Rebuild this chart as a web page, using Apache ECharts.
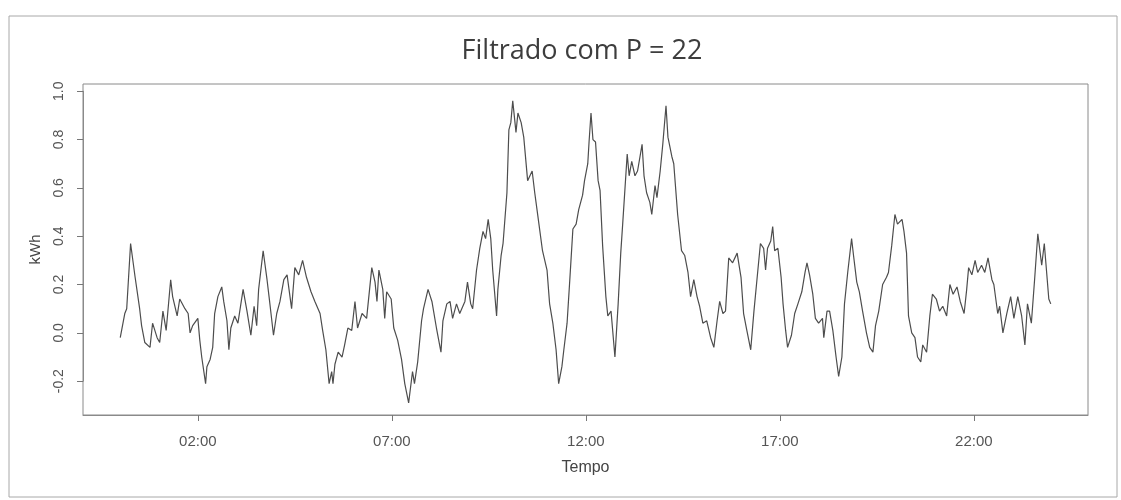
<!DOCTYPE html>
<html>
<head>
<meta charset="utf-8">
<script src="https://cdn.jsdelivr.net/npm/echarts@6/dist/echarts.min.js"></script>
<style>html,body{margin:0;padding:0;background:#fff;}#c{width:1121px;height:500px;}</style>
</head>
<body>
<div id="c"></div>
<script>
// time of day in minutes since 00:00
const minutes = [0,7,10,16,23,30,33,38,46,50,57,61,66,71,78,81,88,92,100,105,108,112,120,123,126,132,134,139,143,146,151,157,160,165,168,171,177,182,190,196,202,207,211,214,221,227,231,237,242,247,253,258,265,270,276,282,288,295,301,309,313,318,323,327,329,332,337,343,347,352,358,363,367,374,381,389,394,397,400,406,409,412,419,423,429,435,440,446,452,455,460,466,469,476,482,489,496,499,505,510,514,520,525,533,537,542,545,551,556,561,565,569,573,576,582,584,589,592,598,601,604,607,612,615,620,624,630,637,641,646,653,660,664,669,674,678,683,686,691,695,700,705,709,715,718,723,725,728,731,735,739,742,746,751,754,759,765,770,774,777,784,787,791,796,800,807,810,814,819,822,827,830,835,839,844,847,853,856,862,868,873,878,882,887,892,896,901,907,913,918,923,927,932,936,941,947,954,960,964,969,975,980,985,990,995,998,1001,1006,1009,1012,1017,1022,1025,1029,1032,1038,1043,1048,1054,1059,1062,1066,1071,1075,1080,1086,1088,1093,1097,1102,1107,1111,1116,1120,1125,1131,1134,1139,1143,1148,1154,1159,1164,1168,1173,1179,1185,1188,1193,1198,1202,1209,1212,1216,1219,1224,1229,1233,1238,1241,1247,1252,1256,1262,1267,1272,1278,1283,1288,1294,1299,1305,1309,1312,1317,1322,1326,1332,1337,1342,1348,1351,1357,1360,1365,1371,1377,1382,1388,1394,1399,1403,1409,1414,1419,1425,1429,1436,1439];
const kwh = [-0.02,0.08,0.10,0.37,0.23,0.10,0.03,-0.04,-0.06,0.04,-0.02,-0.04,0.09,0.01,0.22,0.15,0.07,0.14,0.10,0.08,0.00,0.03,0.06,-0.03,-0.10,-0.21,-0.14,-0.11,-0.06,0.08,0.15,0.19,0.13,0.05,-0.07,0.02,0.07,0.04,0.18,0.09,-0.01,0.11,0.03,0.18,0.34,0.22,0.13,-0.01,0.08,0.13,0.22,0.24,0.10,0.27,0.24,0.30,0.23,0.17,0.13,0.08,0.01,-0.07,-0.21,-0.16,-0.21,-0.13,-0.08,-0.10,-0.05,0.02,0.01,0.13,0.02,0.08,0.06,0.27,0.21,0.13,0.26,0.18,0.06,0.17,0.14,0.02,-0.03,-0.11,-0.21,-0.29,-0.16,-0.21,-0.12,0.05,0.10,0.18,0.13,0.02,-0.08,0.05,0.12,0.13,0.06,0.12,0.08,0.13,0.21,0.12,0.10,0.26,0.35,0.42,0.39,0.47,0.39,0.26,0.07,0.18,0.32,0.37,0.58,0.84,0.87,0.96,0.83,0.91,0.87,0.81,0.63,0.67,0.58,0.48,0.34,0.26,0.12,0.04,-0.07,-0.21,-0.14,-0.07,0.04,0.21,0.43,0.45,0.51,0.57,0.63,0.70,0.79,0.91,0.80,0.79,0.63,0.59,0.36,0.15,0.07,0.09,-0.10,0.12,0.33,0.45,0.74,0.65,0.71,0.65,0.67,0.78,0.65,0.58,0.54,0.49,0.61,0.56,0.67,0.78,0.94,0.81,0.73,0.70,0.49,0.34,0.32,0.25,0.15,0.22,0.15,0.11,0.04,0.05,-0.02,-0.06,0.05,0.13,0.08,0.09,0.31,0.29,0.33,0.23,0.08,0.01,-0.07,0.09,0.23,0.37,0.35,0.26,0.35,0.38,0.44,0.34,0.35,0.23,0.12,0.01,-0.06,-0.01,0.08,0.12,0.17,0.25,0.29,0.24,0.16,0.06,0.04,0.06,-0.02,0.09,0.09,0.01,-0.10,-0.18,-0.10,0.12,0.25,0.39,0.32,0.21,0.17,0.09,0.00,-0.06,-0.08,0.03,0.09,0.20,0.23,0.25,0.36,0.49,0.45,0.47,0.42,0.33,0.07,0.00,-0.02,-0.10,-0.12,-0.05,-0.08,0.07,0.16,0.14,0.09,0.11,0.07,0.20,0.16,0.19,0.13,0.08,0.18,0.27,0.24,0.30,0.25,0.28,0.25,0.31,0.22,0.20,0.08,0.11,0.00,0.08,0.15,0.06,0.15,0.07,-0.05,0.12,0.04,0.22,0.41,0.28,0.37,0.14,0.12];
const xTickMinutes = [120, 420, 720, 1020, 1320];
const xTickLabels = ['02:00', '07:00', '12:00', '17:00', '22:00'];
const yTicks = [-0.2, 0.0, 0.2, 0.4, 0.6, 0.8, 1.0];
const titleText = 'Filtrado com P = 22';
const xName = 'Tempo';
const yName = 'kWh';

const chart = echarts.init(document.getElementById('c'), null, {renderer: 'canvas'});
const seriesData = minutes.map((m, i) => [m, kwh[i]]);
const axisFont = 'Liberation Sans, Arial, Helvetica, sans-serif';

// plot box (data range padded like R) and the tick-span axis (first to last y tick)
const yMin = -0.34, yMax = 1.03;
const boxTop = 84, boxBottom = 85, H = 500;
const boxH = H - boxTop - boxBottom;
const yStep = 0.2;
const tickTop = boxTop + (yMax - yTicks[yTicks.length - 1]) / (yMax - yMin) * boxH;
const tickH = (yTicks[yTicks.length - 1] - yTicks[0]) / (yMax - yMin) * boxH;

chart.setOption({
  animation: false,
  backgroundColor: '#fff',
  graphic: [
    {type: 'rect', shape: {x: 9, y: 16, width: 1108, height: 481}, style: {fill: 'none', stroke: '#a8a8a8', lineWidth: 1}, silent: true},
    {type: 'text', x: 582, y: 51, style: {text: titleText, fill: '#3d3d3d', font: '27px "Open Sans", "Noto Sans", sans-serif', textAlign: 'center', textVerticalAlign: 'middle'}, silent: true}
  ],
  grid: [
    {left: 83, right: 33, top: boxTop, bottom: boxBottom, show: true, borderColor: '#8a8a8a', borderWidth: 1, backgroundColor: 'transparent'},
    {left: 83, right: 33, top: tickTop, height: tickH, show: false}
  ],
  xAxis: [{
    type: 'value', gridIndex: 0, min: -57.6, max: 1496.6,
    name: xName, nameLocation: 'middle', nameGap: 45,
    nameTextStyle: {color: '#444', fontSize: 16, fontFamily: axisFont},
    axisLine: {show: true, onZero: false, lineStyle: {color: '#8a8a8a', width: 1}},
    splitLine: {show: false},
    axisTick: {show: true, inside: false, length: 6, lineStyle: {color: '#777'}, customValues: xTickMinutes},
    axisLabel: {color: '#555', fontSize: 15, fontFamily: axisFont, margin: 19, customValues: xTickMinutes,
      formatter: v => { const i = xTickMinutes.indexOf(v); return i >= 0 ? xTickLabels[i] : ''; }}
  }, {
    type: 'value', gridIndex: 1, min: 0, max: 1, show: false
  }],
  yAxis: [{
    type: 'value', gridIndex: 0, min: yMin, max: yMax,
    name: yName, nameLocation: 'middle', nameGap: 40, nameRotate: 90,
    nameTextStyle: {color: '#444', fontSize: 15, fontFamily: axisFont},
    axisLine: {show: false, onZero: false},
    splitLine: {show: false},
    axisTick: {show: false},
    axisLabel: {show: false}
  }, {
    type: 'value', gridIndex: 1, min: yTicks[0], max: yTicks[yTicks.length - 1], interval: yStep,
    axisLine: {show: true, onZero: false, lineStyle: {color: '#8a8a8a', width: 1}},
    splitLine: {show: false},
    axisTick: {show: true, inside: false, length: 6, lineStyle: {color: '#777'}},
    axisLabel: {color: '#555', fontSize: 14, fontFamily: axisFont, margin: 17, rotate: 90,
      formatter: v => Number(v).toFixed(1)}
  }],
  series: [{
    type: 'line', xAxisIndex: 0, yAxisIndex: 0, data: seriesData, showSymbol: false, smooth: false,
    lineStyle: {color: '#4d4d4d', width: 1.2}
  }]
});
</script>
</body>
</html>
